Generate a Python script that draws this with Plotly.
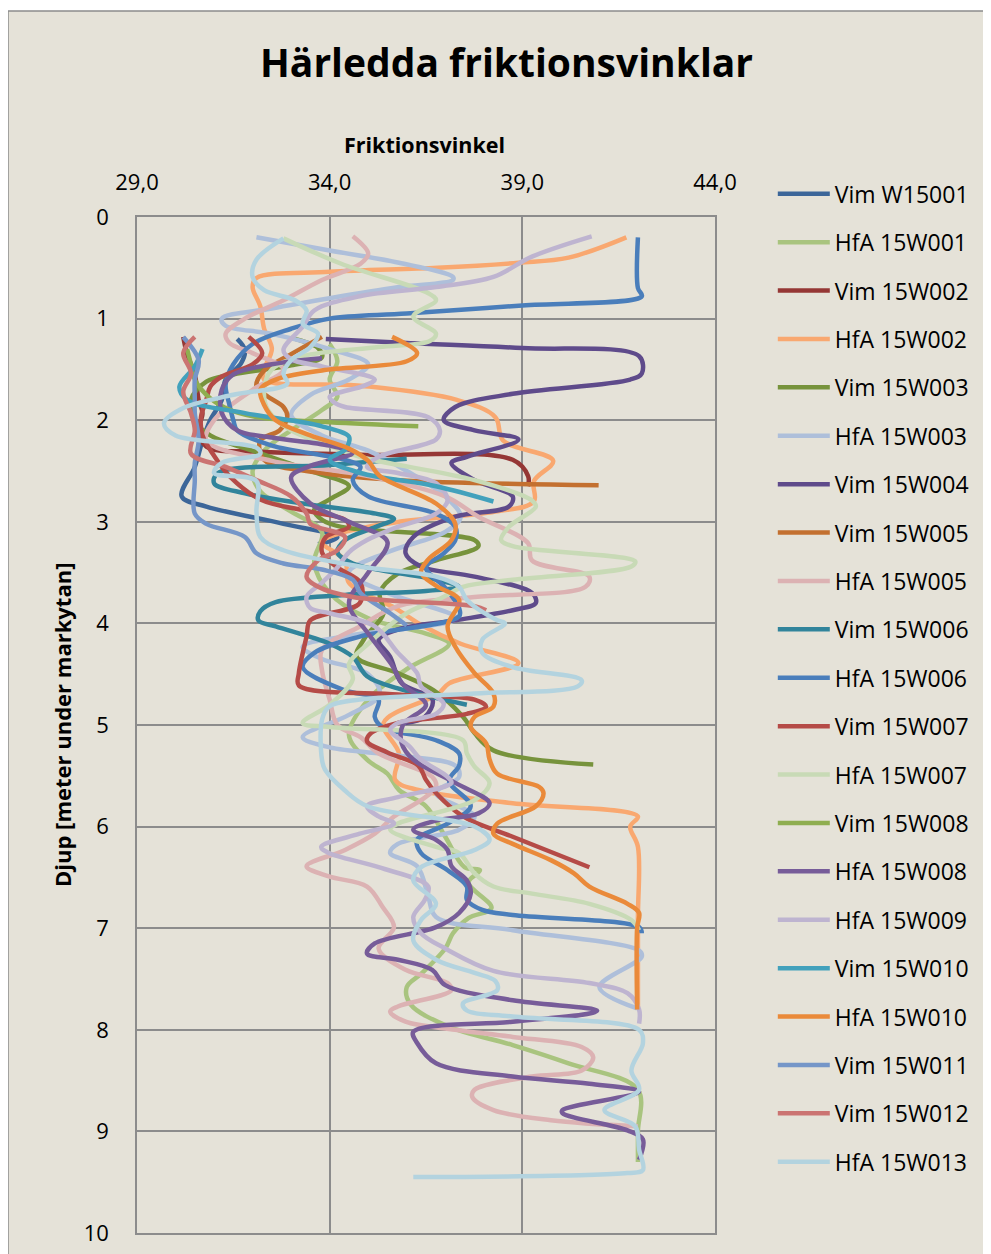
import plotly.graph_objects as go

# ---------------- data (friction angle in degrees, depth in metres) ----------------
series_names = ["Vim W15001", "HfA 15W001", "Vim 15W002", "HfA 15W002", "Vim 15W003",
                "HfA 15W003", "Vim 15W004", "Vim 15W005", "HfA 15W005", "Vim 15W006",
                "HfA 15W006", "Vim 15W007", "HfA 15W007", "Vim 15W008", "HfA 15W008",
                "HfA 15W009", "Vim 15W010", "HfA 15W010", "Vim 15W011", "Vim 15W012",
                "HfA 15W013"]

series_colors = ["#3C6699", "#A9C47F", "#953735", "#F9A870", "#77933C",
                 "#AEBFDA", "#5F4B8B", "#C37030", "#DCB2B3", "#31849B",
                 "#4A7EBB", "#B54B47", "#C8DAB6", "#8FAE50", "#775C99",
                 "#BEB4D0", "#42A1BC", "#EA8A3A", "#7596C8", "#CB7472",
                 "#B3D3DF"]

vim_w15001_v = [31.6, 31.8, 31.7, 31.3, 31.2, 30.9, 30.7, 30.5, 30.16, 30.8, 32.8, 34.2, 33.7]
vim_w15001_d = [1.2, 1.31, 1.44, 1.6, 1.8, 2.0, 2.2, 2.46, 2.75, 2.85, 3.02, 3.15, 3.22]

hfa_15w001_v = [34.0, 34.2, 34.0, 34.2, 33.8, 33.0, 32.3, 32.0, 32.2, 33.0, 33.8, 33.6, 34.0, 35.0,
                36.5, 37.1, 36.0, 35.0, 34.5, 35.0, 35.5, 35.8, 36.5, 37.0, 37.5, 37.9, 37.6, 38.2,
                37.6, 37.2, 37.0, 36.4, 36.0, 36.1, 37.1, 38.75, 40.2, 42.0, 42.0, 42.0]
hfa_15w001_d = [1.25, 1.42, 1.6, 1.77, 1.9, 2.1, 2.3, 2.5, 2.7, 2.9, 3.1, 3.4, 3.7, 3.95,
                4.1, 4.2, 4.45, 4.75, 5.1, 5.35, 5.48, 5.64, 5.8, 6.1, 6.4, 6.43, 6.55, 6.8,
                6.9, 7.05, 7.2, 7.44, 7.58, 7.75, 7.97, 8.15, 8.33, 8.59, 9.0, 9.3]

vim_15w002_v = [30.2, 30.3, 30.5, 30.6, 30.7, 30.6, 30.8, 32.2, 34.8, 38.75, 39.15, 39.15]
vim_15w002_d = [1.18, 1.35, 1.55, 1.8, 1.93, 2.1, 2.26, 2.31, 2.34, 2.39, 2.55, 2.65]

hfa_15w002_v = [41.7, 40.2, 38.9, 36.8, 34.0, 32.1, 32.0, 32.2, 32.3, 32.5, 32.3, 32.3, 34.8, 37.3,
                38.3, 38.5, 39.8, 39.3, 39.3, 38.3, 35.8, 34.4, 33.8, 34.4, 34.5, 35.7, 36.4, 37.4,
                38.9, 37.1, 36.8, 35.4, 35.8, 35.7, 36.3, 38.75, 42.0, 41.8, 42.0, 42.0, 42.0]
hfa_15w002_d = [0.2, 0.4, 0.45, 0.5, 0.54, 0.6, 0.69, 0.88, 1.1, 1.3, 1.5, 1.6, 1.66, 1.8,
                1.97, 2.2, 2.4, 2.6, 2.8, 2.9, 3.0, 3.1, 3.2, 3.38, 3.6, 3.85, 4.02, 4.2,
                4.39, 4.59, 4.7, 4.98, 5.28, 5.54, 5.64, 5.77, 5.9, 6.0, 6.2, 6.9, 7.8]

vim_15w003_v = [33.0, 33.7, 33.8, 33.0, 31.5, 30.8, 30.4, 30.5, 30.9, 32.0, 33.5, 34.5, 34.0, 33.6,
                33.8, 34.3, 37.76, 37.86, 36.76, 35.77, 35.3, 35.4, 34.9, 34.7, 35.77, 36.7, 37.46,
                37.76, 38.25, 40.84]
vim_15w003_d = [1.19, 1.29, 1.38, 1.46, 1.55, 1.62, 1.8, 2.0, 2.15, 2.3, 2.5, 2.65, 2.78, 2.88,
                2.98, 3.05, 3.18, 3.24, 3.38, 3.51, 3.7, 3.9, 4.15, 4.33, 4.49, 4.66, 4.92,
                5.08, 5.25, 5.39]

hfa_15w003_v = [32.1, 34.0, 35.8, 37.2, 37.2, 35.8, 34.0, 32.5, 31.2, 31.3, 32.5, 34.0, 35.0, 34.5,
                33.5, 33.0, 33.8, 35.0, 36.0, 37.0, 37.4, 37.0, 35.5, 34.5, 35.5, 37.3, 36.0, 34.5,
                33.3, 33.8, 35.0, 35.3, 34.5, 33.3, 34.0, 35.77, 37.26, 37.36, 36.76, 37.76, 37.36,
                35.77, 35.57, 36.27, 36.56, 36.76, 38.75, 42.03, 42.1, 41.0, 41.98]
hfa_15w003_d = [0.2, 0.33, 0.45, 0.59, 0.62, 0.69, 0.8, 0.9, 1.0, 1.07, 1.15, 1.3, 1.45, 1.6,
                1.75, 1.95, 2.15, 2.3, 2.5, 2.75, 2.95, 3.1, 3.3, 3.5, 3.7, 3.95, 4.05, 4.12,
                4.23, 4.35, 4.5, 4.7, 4.9, 5.12, 5.22, 5.3, 5.4, 5.51, 5.67, 5.9, 6.03,
                6.17, 6.26, 6.39, 6.69, 6.89, 7.02, 7.22, 7.28, 7.58, 7.79]

vim_15w004_v = [33.9, 36.0, 39.0, 42.03, 42.1, 41.8, 38.75, 37.26, 36.96, 37.76, 38.9, 37.56, 37.16,
                37.76, 38.75, 38.65, 37.26, 36.17, 35.97, 36.37, 37.76, 39.25, 39.35, 38.75, 37.26,
                35.77, 35.27, 35.57, 35.87, 36.67, 36.47, 35.97]
vim_15w004_d = [1.2, 1.24, 1.29, 1.37, 1.54, 1.6, 1.74, 1.87, 2.0, 2.1, 2.19, 2.36, 2.42,
                2.59, 2.75, 2.85, 2.95, 3.15, 3.31, 3.44, 3.54, 3.7, 3.8, 3.87, 3.97,
                4.06, 4.16, 4.33, 4.59, 4.75, 4.92, 4.98]

vim_15w005_v = [33.8, 33.0, 32.3, 32.1, 32.4, 32.8, 32.9, 32.7, 32.2, 32.3, 33.8, 35.77, 40.98]
vim_15w005_d = [1.18, 1.35, 1.51, 1.67, 1.77, 1.87, 1.97, 2.1, 2.2, 2.39, 2.52, 2.59, 2.64]

hfa_15w005_v = [34.6, 35.0, 34.8, 33.8, 32.8, 31.8, 31.3, 31.4, 32.0, 32.8, 32.0, 31.0, 30.8, 32.5,
                35.0, 37.0, 37.86, 39.15, 39.25, 40.74, 40.64, 37.76, 35.77, 34.78, 33.8, 33.8,
                34.0, 34.2, 34.8, 35.27, 36.66, 36.76, 36.37, 35.67, 35.17, 34.4, 33.4, 33.98,
                34.97, 35.37, 35.67, 35.27, 35.97, 37.06, 37.16, 35.77, 35.57, 35.97, 37.26,
                38.75, 40.54, 40.84, 40.54, 39.25, 37.76, 37.7, 38.25, 39.74, 42.0]
hfa_15w005_d = [0.19, 0.36, 0.46, 0.62, 0.82, 1.0, 1.15, 1.24, 1.34, 1.5, 1.7, 2.0, 2.2, 2.4,
                2.55, 2.75, 2.95, 3.21, 3.38, 3.54, 3.64, 3.74, 3.83, 4.03, 4.26, 4.46,
                4.75, 5.0, 5.12, 5.28, 5.51, 5.61, 5.74, 5.9, 6.07, 6.23, 6.39, 6.49,
                6.59, 6.79, 6.99, 7.2, 7.41, 7.54, 7.61, 7.77, 7.82, 7.92, 8.0,
                8.07, 8.17, 8.27, 8.4, 8.46, 8.59, 8.66, 8.79, 8.89, 8.95]

vim_15w006_v = [36.0, 34.0, 31.1, 31.0, 31.8, 33.3, 35.2, 35.67, 35.2, 34.4, 34.2, 34.6, 36.76,
                37.36, 36.5, 34.4, 32.6, 32.2, 32.15, 32.6, 34.0, 34.6, 34.97, 35.77, 37.56]
vim_15w006_d = [2.38, 2.44, 2.52, 2.62, 2.72, 2.82, 2.92, 2.97, 3.05, 3.18, 3.3, 3.41, 3.57,
                3.64, 3.68, 3.72, 3.79, 3.88, 3.97, 4.03, 4.2, 4.33, 4.52, 4.64, 4.8]

hfa_15w006_v = [42.0, 42.0, 42.1, 39.0, 36.0, 34.0, 33.0, 32.0, 31.5, 31.3, 31.4, 31.5, 31.6, 32.5,
                34.4, 34.8, 34.6, 35.0, 36.76, 37.26, 37.26, 36.96, 36.5, 37.0, 37.36, 37.36,
                34.78, 33.6, 33.3, 34.4, 35.27, 35.17, 35.37, 36.76, 37.36, 37.36, 37.1, 37.66,
                37.06, 36.27, 36.37, 37.06, 37.56, 37.56, 37.96, 38.75, 42.03, 42.1]
hfa_15w006_d = [0.2, 0.7, 0.78, 0.87, 0.95, 1.0, 1.1, 1.25, 1.45, 1.65, 1.85, 2.0, 2.1, 2.25,
                2.39, 2.46, 2.59, 2.75, 2.92, 3.05, 3.18, 3.31, 3.45, 3.65, 3.85, 3.93,
                4.13, 4.29, 4.43, 4.66, 4.75, 4.92, 5.02, 5.15, 5.28, 5.4, 5.55, 5.8,
                5.97, 6.13, 6.26, 6.43, 6.59, 6.72, 6.82, 6.87, 6.99, 7.05]

vim_15w007_v = [31.9, 32.25, 32.0, 31.2, 30.9, 30.8, 30.66, 30.7, 31.0, 31.4, 32.2, 33.5, 34.4,
                34.5, 33.9, 33.8, 34.2, 34.8, 34.78, 33.5, 33.4, 33.2, 33.2, 35.77, 37.76, 38.06,
                37.56, 35.77, 35.07, 34.97, 35.5, 36.3, 36.5, 36.76, 37.46, 38.75, 40.74]
vim_15w007_d = [1.18, 1.34, 1.45, 1.57, 1.67, 1.8, 1.97, 2.15, 2.35, 2.55, 2.78, 2.9, 2.98,
                3.05, 3.15, 3.3, 3.45, 3.6, 3.8, 3.97, 4.13, 4.49, 4.61, 4.7, 4.75, 4.82,
                4.89, 4.98, 5.08, 5.16, 5.27, 5.4, 5.54, 5.67, 5.9, 6.1, 6.4]

hfa_15w007_v = [32.8, 34.3, 36.56, 36.76, 36.17, 36.76, 36.6, 35.27, 33.3, 32.5, 32.3, 32.4, 33.0,
                34.0, 34.78, 37.76, 39.25, 39.35, 38.65, 38.45, 38.75, 41.93, 41.83, 38.75, 37.46,
                36.9, 36.0, 35.0, 34.5, 34.6, 34.0, 33.3, 34.0, 37.46, 37.56, 37.76, 38.15, 37.76,
                35.77, 35.57, 36.76, 37.36, 37.76, 38.25, 39.25, 40.74, 41.83, 42.03]
hfa_15w007_d = [0.21, 0.46, 0.75, 0.82, 0.98, 1.15, 1.22, 1.28, 1.37, 1.5, 1.7, 1.9, 2.1,
                2.25, 2.36, 2.59, 2.79, 2.85, 3.05, 3.18, 3.24, 3.39, 3.44, 3.57, 3.64,
                3.75, 3.9, 4.2, 4.4, 4.55, 4.8, 4.98, 5.02, 5.15, 5.28, 5.41, 5.57, 5.74,
                5.97, 6.03, 6.2, 6.26, 6.46, 6.59, 6.66, 6.76, 6.92, 7.02]

vim_15w008_v = [30.3, 30.4, 30.5, 30.8, 31.3, 32.1, 34.0, 36.3]
vim_15w008_d = [1.3, 1.45, 1.6, 1.75, 1.88, 1.97, 2.02, 2.06]

hfa_15w008_v = [33.8, 32.5, 31.5, 31.2, 31.2, 31.6, 32.5, 34.0, 34.6, 33.5, 33.0, 33.5, 34.5, 35.5,
                35.0, 34.5, 35.0, 35.6, 35.9, 36.5, 35.9, 35.87, 36.17, 37.26, 38.15, 37.86, 36.76,
                36.17, 36.76, 37.06, 37.16, 37.56, 37.66, 37.36, 36.76, 35.17, 34.97, 35.77, 36.66,
                37.0, 38.75, 40.94, 40.74, 38.75, 36.17, 36.27, 36.76, 38.75, 40.74, 42.03, 40.04,
                40.04, 41.73, 42.13, 42.03]
hfa_15w008_d = [1.39, 1.45, 1.55, 1.7, 1.93, 2.1, 2.17, 2.25, 2.32, 2.45, 2.56, 2.82, 3.0, 3.2,
                3.5, 3.8, 4.1, 4.4, 4.6, 4.8, 5.0, 5.18, 5.34, 5.57, 5.77, 5.87, 5.94,
                6.03, 6.13, 6.23, 6.39, 6.53, 6.66, 6.85, 6.99, 7.15, 7.25, 7.31, 7.41,
                7.56, 7.71, 7.81, 7.84, 7.92, 8.02, 8.13, 8.33, 8.46, 8.53, 8.61, 8.79,
                8.82, 8.99, 9.08, 9.28]

hfa_15w009_v = [40.8, 39.25, 38.25, 36.76, 34.78, 33.6, 33.3, 32.8, 33.0, 33.8, 35.17, 34.9, 34.0,
                34.1, 34.4, 36.56, 36.86, 36.76, 35.27, 34.97, 35.77, 36.76, 37.06, 36.76, 35.77,
                34.97, 34.5, 34.2, 33.8, 33.4, 33.5, 34.0, 35.17, 35.77, 36.27, 36.37, 36.96,
                36.76, 35.77, 35.57, 36.07, 36.37, 37.06, 37.16, 35.77, 34.97, 35.27, 35.67, 34.78,
                33.78, 33.98, 35.27, 36.56, 36.47, 36.17, 36.37, 37.0, 38.25, 40.74, 41.73, 42.03,
                42.03]
hfa_15w009_d = [0.19, 0.39, 0.59, 0.69, 0.78, 0.92, 1.08, 1.31, 1.4, 1.47, 1.6, 1.66, 1.77,
                1.82, 1.87, 1.97, 2.1, 2.19, 2.36, 2.46, 2.52, 2.62, 2.79, 2.92, 3.05,
                3.18, 3.3, 3.45, 3.6, 3.74, 3.85, 3.9, 4.03, 4.29, 4.49, 4.62, 4.79,
                4.89, 4.98, 5.05, 5.21, 5.34, 5.51, 5.57, 5.71, 5.8, 5.9, 5.97, 6.07,
                6.2, 6.26, 6.4, 6.59, 6.72, 6.89, 7.05, 7.2, 7.42, 7.54, 7.64, 7.8,
                7.94]

vim_15w010_v = [30.7, 30.5, 30.1, 30.3, 31.8, 33.8, 34.5, 34.5, 34.4, 34.0, 34.8, 36.76, 38.25]
vim_15w010_d = [1.3, 1.47, 1.67, 1.8, 1.93, 2.06, 2.16, 2.22, 2.29, 2.39, 2.52, 2.65, 2.8]

hfa_15w010_v = [35.62, 36.27, 36.0, 33.8, 32.6, 32.2, 32.3, 32.6, 33.5, 34.5, 35.0, 35.3, 36.76,
                37.26, 37.16, 36.56, 36.37, 36.76, 37.36, 37.06, 37.26, 37.76, 38.25, 38.25, 37.76,
                37.66, 38.06, 38.15, 38.35, 39.44, 39.55, 39.35, 38.35, 38.25, 38.75, 39.74, 40.34,
                40.74, 41.73, 42.03, 41.98, 41.98]
hfa_15w010_d = [1.18, 1.34, 1.42, 1.51, 1.6, 1.7, 1.85, 2.0, 2.15, 2.28, 2.4, 2.55, 2.82,
                3.02, 3.18, 3.37, 3.5, 3.63, 3.77, 4.03, 4.23, 4.49, 4.69, 4.82, 4.92,
                5.02, 5.18, 5.34, 5.48, 5.61, 5.67, 5.8, 5.97, 6.07, 6.17, 6.33, 6.46,
                6.59, 6.76, 6.85, 6.99, 7.8]

vim_15w011_v = [30.2, 30.6, 30.5, 30.5, 30.5, 30.6, 30.5, 30.5, 30.5, 30.8, 31.8, 32.1, 32.8, 33.8,
                34.6, 34.8, 35.57, 36.0]
vim_15w011_d = [1.18, 1.41, 1.6, 1.8, 1.93, 2.2, 2.42, 2.59, 2.92, 3.02, 3.15, 3.31, 3.41, 3.47,
                3.57, 3.7, 3.9, 4.02]

vim_15w012_v = [30.5, 30.2, 30.4, 30.2, 30.4, 30.5, 30.4, 31.3, 32.1, 33.0, 33.4, 33.5, 34.4, 34.2,
                33.7, 33.4, 33.7, 34.6, 37.76, 38.06]
vim_15w012_d = [1.18, 1.34, 1.54, 1.72, 1.93, 2.1, 2.33, 2.46, 2.59, 2.75, 2.92, 3.02, 3.15, 3.28,
                3.38, 3.54, 3.64, 3.74, 3.83, 3.87]

hfa_15w013_v = [32.8, 32.1, 32.0, 32.3, 33.1, 33.4, 33.3, 33.7, 33.5, 33.0, 32.8, 32.9, 31.5, 30.2,
                29.7, 30.0, 32.1, 32.2, 31.2, 31.0, 32.1, 32.1, 32.2, 32.8, 34.78, 36.76, 37.36,
                37.56, 38.35, 38.55, 37.96, 37.96, 38.75, 40.54, 40.44, 37.76, 34.78, 33.98, 33.8,
                33.8, 33.88, 34.38, 34.98, 37.76, 38.15, 37.76, 36.37, 36.17, 36.76, 36.37, 36.17,
                36.76, 37.76, 38.3, 38.35, 37.46, 37.56, 38.75, 42.03, 42.13, 41.83, 42.03, 41.13,
                41.93, 42.03, 42.13, 41.73, 36.17]
hfa_15w013_d = [0.21, 0.42, 0.59, 0.72, 0.82, 0.92, 1.05, 1.15, 1.28, 1.41, 1.54, 1.64, 1.75, 1.88,
                2.03, 2.15, 2.27, 2.33, 2.42, 2.52, 2.6, 2.9, 3.15, 3.28, 3.44, 3.54, 3.64,
                3.77, 3.97, 4.0, 4.16, 4.29, 4.43, 4.56, 4.62, 4.69, 4.75, 4.82, 4.95,
                5.34, 5.44, 5.64, 5.8, 6.0, 6.13, 6.23, 6.4, 6.53, 6.76, 6.92, 7.12,
                7.31, 7.44, 7.52, 7.61, 7.74, 7.81, 7.87, 8.0, 8.13, 8.4, 8.59, 8.79,
                8.95, 9.18, 9.38, 9.41, 9.45]

x_tick_vals = [29, 34, 39, 44]
x_tick_text = ["29,0", "34,0", "39,0", "44,0"]
y_tick_vals = [0, 1, 2, 3, 4, 5, 6, 7, 8, 9, 10]

series_v = [vim_w15001_v, hfa_15w001_v, vim_15w002_v, hfa_15w002_v, vim_15w003_v, hfa_15w003_v,
            vim_15w004_v, vim_15w005_v, hfa_15w005_v, vim_15w006_v, hfa_15w006_v, vim_15w007_v,
            hfa_15w007_v, vim_15w008_v, hfa_15w008_v, hfa_15w009_v, vim_15w010_v, hfa_15w010_v,
            vim_15w011_v, vim_15w012_v, hfa_15w013_v]
series_d = [vim_w15001_d, hfa_15w001_d, vim_15w002_d, hfa_15w002_d, vim_15w003_d, hfa_15w003_d,
            vim_15w004_d, vim_15w005_d, hfa_15w005_d, vim_15w006_d, hfa_15w006_d, vim_15w007_d,
            hfa_15w007_d, vim_15w008_d, hfa_15w008_d, hfa_15w009_d, vim_15w010_d, hfa_15w010_d,
            vim_15w011_d, vim_15w012_d, hfa_15w013_d]

# ---------------- figure ----------------
FONT = "Open Sans"
BG = "#E5E2D8"
GRID = "#8C8C8C"

fig = go.Figure()
for i, name in enumerate(series_names):
    fig.add_trace(go.Scatter(
        x=series_v[i], y=series_d[i], name=name, mode="lines",
        line=dict(color=series_colors[i], width=4.5, shape="spline", smoothing=1.0),
        legendgroup=name,
    ))

fig.update_layout(
    width=991, height=1254,
    margin=dict(l=129, r=284, t=209, b=29),
    paper_bgcolor="white",
    plot_bgcolor=BG,
    font=dict(family=FONT, color="black"),
    showlegend=True,
    legend=dict(
        x=1.1, y=1.044, xanchor="left", yanchor="top",
        font=dict(family=FONT, size=23, color="black"),
        bgcolor="rgba(0,0,0,0)",
        tracegroupgap=15.5,
        itemwidth=52,
        maxheight=1150,
    ),
    shapes=[dict(type="rect", xref="paper", yref="paper",
                 x0=-0.2232, x1=1.49, y0=-0.05, y1=1.2028,
                 fillcolor=BG, line=dict(color=GRID, width=1.5), layer="below")],
    annotations=[
        dict(text="<b>Härledda friktionsvinklar</b>", xref="paper", yref="paper",
             x=0.64, y=1.1526, xanchor="center", yanchor="middle", showarrow=False,
             font=dict(family=FONT, size=39, color="black")),
        dict(text="<b>Friktionsvinkel</b>", xref="paper", yref="paper",
             x=0.498, y=1.0709, xanchor="center", yanchor="middle", showarrow=False,
             font=dict(family=FONT, size=21.5, color="black")),
        dict(text="<b>Djup [meter under markytan]</b>", xref="paper", yref="paper",
             x=-0.1298, y=0.5, xanchor="center", yanchor="middle", showarrow=False,
             textangle=-90, font=dict(family=FONT, size=22, color="black")),
    ],
)

fig.update_xaxes(
    side="top", range=[29, 44], tickvals=x_tick_vals, ticktext=x_tick_text,
    showgrid=True, gridcolor=GRID, gridwidth=1.5, zeroline=False,
    showline=True, linecolor=GRID, linewidth=1.5, mirror=True,
    ticks="", tickfont=dict(family=FONT, size=22, color="black"),
    ticklabelstandoff=16,
)
fig.update_yaxes(
    range=[10, 0], tickvals=y_tick_vals,
    showgrid=True, gridcolor=GRID, gridwidth=1.5, zeroline=False,
    showline=True, linecolor=GRID, linewidth=1.5, mirror=True,
    ticks="", tickfont=dict(family=FONT, size=22, color="black"),
    ticklabelstandoff=22,
)

fig.write_html("out.html")
